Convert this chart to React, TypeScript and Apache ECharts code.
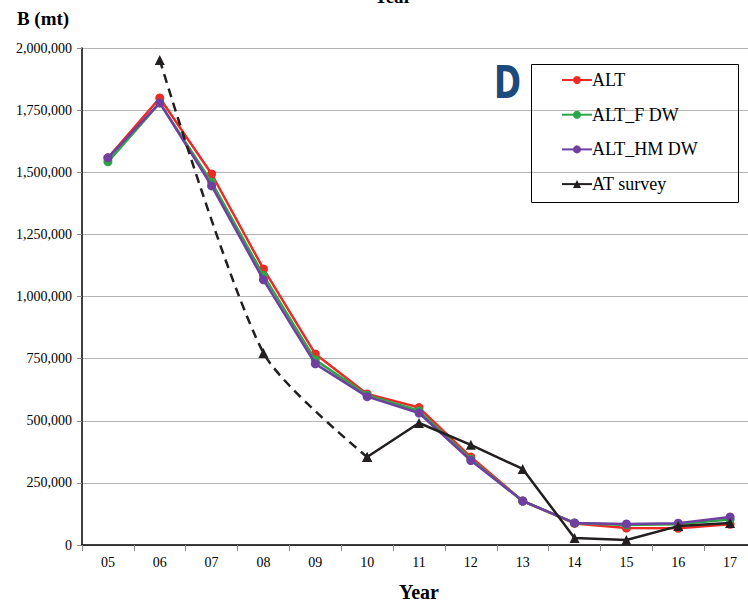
import React, { useEffect, useRef } from "react";
import * as echarts from "echarts";

const years = ["05", "06", "07", "08", "09", "10", "11", "12", "13", "14", "15", "16", "17"];
const alt = [1558000, 1799000, 1493000, 1111000, 769000, 608000, 553000, 354000, 177000, 87000, 68000, 67000, 83000];
const altF = [1542000, 1779000, 1460000, 1085000, 745000, 603000, 540000, 345000, 177000, 89000, 80000, 84000, 103000];
const altHM = [1558000, 1779000, 1445000, 1067000, 729000, 597000, 531000, 340000, 177000, 89000, 85000, 88000, 113000];
const atSurvey = [null, null, null, null, null, 354000, 491000, 403000, 306000, 28000, 20000, 76000, 89000];
const atSurveyEarly: [number, number][] = [[1, 1952000], [3, 773000], [5, 354000]];
const yTicks = [0, 250000, 500000, 750000, 1000000, 1250000, 1500000, 1750000, 2000000];

const serif = "Liberation Serif, serif";

export default function App() {
  const ref = useRef<HTMLDivElement>(null);
  useEffect(() => {
    const chart = echarts.init(ref.current!, null, { renderer: "svg" });
    const lineSeries = (name: string, data: any[], color: string, z: number) => ({
      name,
      type: "line",
      data,
      z,
      symbol: "circle",
      symbolSize: 9,
      itemStyle: { color },
      lineStyle: { color, width: 2.5 },
    });
    chart.setOption({
      animation: false,
      backgroundColor: "#ffffff",
      textStyle: { fontFamily: serif },
      grid: { left: 82, right: -8, top: 48, bottom: 58, outerBoundsMode: "none", containLabel: false },
      xAxis: {
        type: "category",
        data: years,
        boundaryGap: true,
        axisLine: { lineStyle: { color: "#000", width: 1.5 } },
        axisTick: { show: true, length: 6, lineStyle: { color: "#888" } },
        axisLabel: { color: "#000", fontFamily: serif, fontSize: 14, margin: 10 },
        name: "Year",
        nameLocation: "middle",
        nameGap: 37,
        nameTextStyle: { color: "#000", fontFamily: serif, fontSize: 20, fontWeight: "bold" },
      },
      yAxis: {
        type: "value",
        min: 0,
        max: 2000000,
        interval: 250000,
        axisLine: { show: true, lineStyle: { color: "#000", width: 1.5 } },
        axisTick: { show: true, length: 5, lineStyle: { color: "#888" } },
        splitLine: { lineStyle: { color: "#b4b4b4", width: 1 } },
        axisLabel: {
          color: "#000",
          fontFamily: serif,
          fontSize: 14,
          margin: 10,
          formatter: (v: number) => (yTicks.includes(v) ? v.toLocaleString("en-US") : ""),
        },
      },
      legend: {
        orient: "vertical",
        left: 561,
        top: 70,
        padding: 0,
        itemWidth: 30,
        itemHeight: 10,
        itemGap: 14.7,
        data: ["ALT", "ALT_F DW", "ALT_HM DW", "AT survey"],
        textStyle: { fontFamily: serif, fontSize: 18, color: "#000", lineHeight: 20, padding: [0, 0, 0, -5] },
      },
      graphic: [
        {
          type: "rect",
          shape: { x: 531.5, y: 64.5, width: 207, height: 138 },
          style: { fill: "none", stroke: "#000", lineWidth: 1 },
          z: 5,
        },
        {
          type: "text",
          x: 494,
          y: 61,
          scaleX: 0.74,
          style: {
            text: "D",
            font: "bold 44px DejaVu Sans, sans-serif",
            fill: "#1b4a7c",
          },
        },
        {
          type: "text",
          x: 43,
          y: 9,
          style: {
            text: "B (mt)",
            font: "bold 19px Liberation Serif, serif",
            fill: "#000",
            textAlign: "center",
          },
        },
        {
          type: "text",
          x: 393,
          y: -13,
          style: {
            text: "Year",
            font: "bold 19px Liberation Serif, serif",
            fill: "#000",
            textAlign: "center",
          },
        },
      ],
      series: [
        lineSeries("ALT", alt, "#ee2a24", 2),
        lineSeries("ALT_F DW", altF, "#2ca54a", 3),
        lineSeries("ALT_HM DW", altHM, "#7040a0", 4),
        {
          name: "AT survey",
          type: "line",
          data: atSurvey,
          z: 5,
          symbol: "triangle",
          symbolSize: 10,
          itemStyle: { color: "#231f20" },
          lineStyle: { color: "#231f20", width: 2.5 },
        },
        {
          name: "AT survey early",
          type: "line",
          data: atSurveyEarly,
          z: 5,
          smooth: 0.25,
          symbol: "triangle",
          symbolSize: 10,
          itemStyle: { color: "#231f20" },
          lineStyle: { color: "#231f20", width: 2.5, type: [9, 6] },
        },
      ],
    });
    return () => chart.dispose();
  }, []);
  return <div ref={ref} style={{ width: 748, height: 603, position: "absolute", left: 0, top: 0 }} />;
}
